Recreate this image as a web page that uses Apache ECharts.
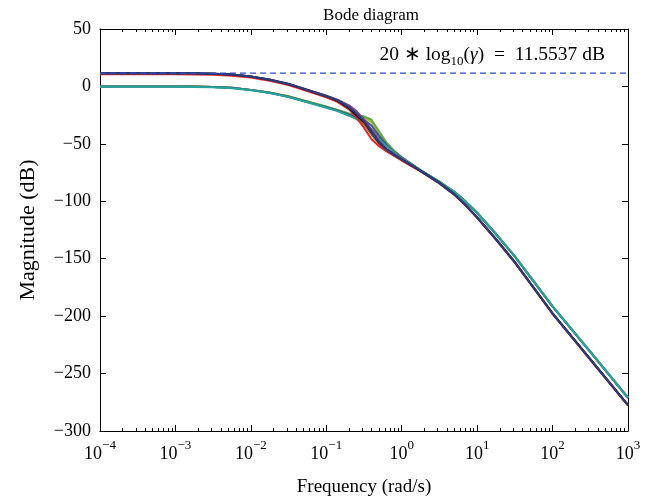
<!DOCTYPE html>
<html>
<head>
<meta charset="utf-8">
<script src="https://cdn.jsdelivr.net/npm/echarts@6/dist/echarts.min.js"></script>
<style>
  html, body { margin: 0; padding: 0; background: #fff; }
  #chart { width: 662px; height: 502px; }
</style>
</head>
<body>
<div id="chart"></div>
<script>
(function(){
  'use strict';

  /*
    data
  */
  var freq = [0.0001, 0.001, 0.00178, 0.00316, 0.00562, 0.01, 0.0178, 0.0316, 0.0562, 0.1,
              0.141, 0.2, 0.251, 0.316, 0.398, 0.501, 0.631, 0.794, 1, 1.78,
              3.16, 5.01, 7.08, 10, 17.8, 31.6, 100, 316, 1000];

  // upper group (starts near 11.5 dB)
  var magBlack  = [11.55, 11.5, 11.4, 11.1, 10.3, 8.6, 5.8, 2.0, -3.2, -8.5,
                   -12.5, -19, -25, -31, -40, -49, -55, -59.5, -63.5, -73.5,
                   -84, -94, -103.5, -114, -133, -153, -197.5, -237.5, -277.4];
  var magPurple = [11.55, 11.5, 11.4, 11.1, 10.3, 8.7, 6.0, 2.3, -2.8, -8,
                   -11.5, -16.5, -21.5, -28.5, -38, -47.5, -54.5, -59, -63, -73.5,
                   -84, -94, -103.5, -114, -133, -153, -197.5, -237.5, -277.4];
  var magRed    = [10.6, 10.55, 10.45, 10.2, 9.4, 7.8, 5.0, 1.2, -4.0, -9.5,
                   -13.5, -20, -27, -36, -46, -52, -56.5, -60.5, -64.5, -74,
                   -84.5, -94.5, -104, -114.5, -133.5, -153.5, -198, -238, -277.8];
  var magBrown  = [11.5, 11.45, 11.35, 11.05, 10.2, 8.5, 5.6, 1.8, -3.5, -9,
                   -13, -19.5, -26, -33, -42, -50, -55.5, -60, -64, -73.8,
                   -84.2, -94.2, -103.7, -114.2, -133.2, -153.2, -197.7, -237.7, -277.5];
  var magNavy   = [11.55, 11.5, 11.4, 11.1, 10.3, 8.6, 5.8, 2.1, -3.0, -8.3,
                   -12, -18, -23.5, -30, -39.5, -48.5, -55, -59.5, -63.5, -73.5,
                   -84, -94, -103.5, -114, -133, -153, -197.5, -237.5, -277.4];

  // lower group (starts near 0 dB)
  var magGray   = [0, -0.05, -0.15, -0.4, -1.2, -3.0, -5.5, -9.0, -13.5, -18.2,
                   -21.2, -25, -27.8, -31, -37, -44.5, -51.5, -57, -62, -73,
                   -83, -92, -100.5, -110, -128.5, -148, -191.5, -231, -271];
  var magOlive  = [0, -0.05, -0.15, -0.4, -1.2, -3.0, -5.4, -8.8, -13.2, -17.8,
                   -20.8, -24, -26, -26.8, -31, -41, -50.5, -57, -62, -73,
                   -83, -92, -100.5, -110, -128.5, -148, -191.5, -231, -271];
  var magGreen  = [0, -0.05, -0.15, -0.4, -1.2, -3.0, -5.3, -8.6, -13.0, -17.5,
                   -20.5, -23.5, -25.5, -26, -29, -39, -49, -56, -61.5, -72.8,
                   -82.8, -91.8, -100.3, -109.8, -128.3, -147.8, -191.3, -230.8, -270.8];
  var magSlate  = [0, -0.05, -0.15, -0.4, -1.2, -3.0, -5.5, -9.0, -13.5, -18,
                   -21, -24.5, -27, -29, -34, -43, -51, -57, -62, -73,
                   -83, -92, -100.5, -110.2, -128.7, -148.2, -191.7, -231.2, -271.3];
  var magTeal   = [-0.3, -0.35, -0.45, -0.7, -1.5, -3.3, -5.8, -9.3, -13.8, -18.5,
                   -21.5, -25.5, -28.5, -33, -40, -46, -52, -57.5, -62.5, -73,
                   -83, -92, -100.5, -110, -128.5, -148, -191.5, -231, -271];

  var gammaDb = 11.5537;
  var xRange = [0.0001, 1000];
  var xMajor = [0.0001, 0.001, 0.01, 0.1, 1, 10, 100, 1000];
  var xMinorMult = [2, 3, 4, 5, 6, 7, 8, 9];

  /*
    build helpers
  */
  var pairs = function(ys){
    return freq.map(function(f, i){ return [f, ys[i]]; });
  };

  var minorTicks = [];
  xMajor.slice(0, -1).forEach(function(d){
    xMinorMult.forEach(function(m){ minorTicks.push(+(d * m).toPrecision(3)); });
  });

  var font = 'Liberation Serif';

  var curve = function(name, color, ys){
    return {
      name: name,
      type: 'line',
      data: pairs(ys),
      showSymbol: false,
      smooth: false,
      clip: true,
      lineStyle: {color: color, width: 2, join: 'round'},
      animation: false
    };
  };

  var logAxis = function(pos, opts){
    return Object.assign({
      type: 'log',
      logBase: 10,
      position: pos,
      min: xRange[0],
      max: xRange[1],
      gridIndex: 0,
      axisLine: {show: true, onZero: false, lineStyle: {color: '#000', width: 1}},
      axisTick: {show: true, inside: true, length: 6, lineStyle: {color: '#000'}},
      axisLabel: {show: false},
      splitLine: {show: false}
    }, opts);
  };

  var minorAxis = function(pos){
    return logAxis(pos, {
      axisLine: {show: false, onZero: false},
      axisTick: {show: true, inside: true, length: 3, lineStyle: {color: '#000'}, customValues: minorTicks}
    });
  };

  var expLabel = function(v){
    var e = Math.round(Math.log(v) / Math.LN10);
    return '{b|10}{e|' + (e < 0 ? '\u2212' + (-e) : e) + '}';
  };

  var valAxis = function(pos, showLabel){
    return {
      type: 'value',
      position: pos,
      min: -300,
      max: 50,
      interval: 50,
      axisLine: {show: true, onZero: false, lineStyle: {color: '#000', width: 1}},
      axisTick: {show: true, inside: true, length: 6, lineStyle: {color: '#000'}},
      axisLabel: {
        show: showLabel,
        margin: 9,
        color: '#000',
        fontFamily: font,
        fontSize: 18,
        formatter: function(v){ return String(v).replace('-', '\u2212'); }
      },
      splitLine: {show: false}
    };
  };

  var option = {
    backgroundColor: '#fff',
    animation: false,
    title: {
      text: 'Bode diagram',
      left: 366,
      top: 2,
      textAlign: 'center',
      textStyle: {fontFamily: font, fontSize: 17, fontWeight: 'normal', color: '#000'}
    },
    grid: {left: 100, right: 34, top: 29, bottom: 69, containLabel: false},
    xAxis: [
      logAxis('bottom', {
        name: 'Frequency (rad/s)',
        nameLocation: 'middle',
        nameGap: 47,
        nameTextStyle: {fontFamily: font, fontSize: 19, color: '#000'},
        axisLabel: {
          show: true,
          margin: 8,
          formatter: expLabel,
          rich: {
            b: {fontFamily: font, fontSize: 18, color: '#000', verticalAlign: 'bottom', lineHeight: 24},
            e: {fontFamily: font, fontSize: 13, color: '#000', verticalAlign: 'top', lineHeight: 24}
          }
        }
      }),
      minorAxis('bottom'),
      logAxis('top', {}),
      minorAxis('top')
    ],
    yAxis: [
      Object.assign(valAxis('left', true), {
        name: 'Magnitude (dB)',
        nameLocation: 'middle',
        nameGap: 61,
        nameTextStyle: {fontFamily: font, fontSize: 22, color: '#000'}
      }),
      valAxis('right', false)
    ],
    series: [
      curve('gray',   '#6d7c8c', magGray),
      curve('olive',  '#a9b82c', magOlive),
      curve('green',  '#5fae3c', magGreen),
      curve('slate',  '#3f5597', magSlate),
      curve('teal',   '#26a39b', magTeal),
      curve('brown',  '#b3661f', magBrown),
      curve('red',    '#e3262b', magRed),
      curve('purple', '#7b3f9e', magPurple),
      curve('black',  '#111111', magBlack),
      curve('navy',   '#2c3d7a', magNavy),
      {
        name: 'gamma',
        type: 'line',
        data: [[xRange[0], gammaDb], [xRange[1], gammaDb]],
        showSymbol: false,
        lineStyle: {color: '#2b4fc7', width: 1.3, type: [6, 4]},
        animation: false
      }
    ],
    graphic: [{
      type: 'text',
      right: 57,
      top: 45,
      style: {
        text: '20 \u2217 log{s|10}({g|\u03b3})  =  11.5537 dB',
        fontFamily: font,
        fontSize: 19.5,
        fill: '#000',
        rich: {
          s: {fontFamily: font, fontSize: 13, verticalAlign: 'bottom', lineHeight: 26},
          g: {fontFamily: font, fontSize: 19.5, fontStyle: 'italic'}
        }
      }
    }]
  };

  echarts.init(document.getElementById('chart')).setOption(option);
})();
</script>
</body>
</html>
